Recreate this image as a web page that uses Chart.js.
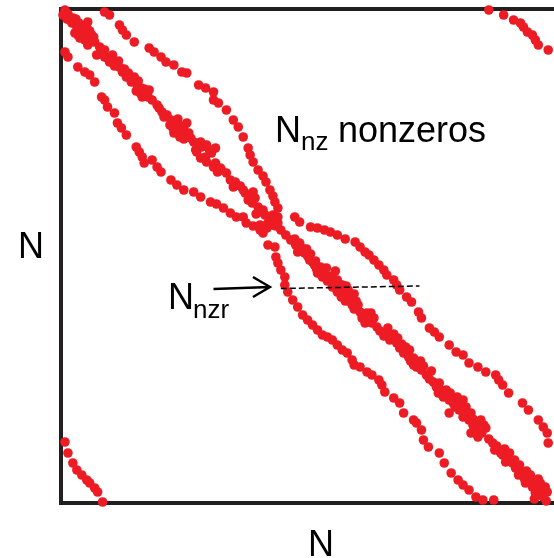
<!DOCTYPE html>
<html>
<head>
<meta charset="utf-8">
<script src="https://cdn.jsdelivr.net/npm/chart.js@4"></script>
<style>
  html, body { margin: 0; padding: 0; background: #fff; overflow: hidden; }
  canvas { display: block; }
</style>
</head>
<body>
<canvas id="matrixChart" width="554" height="558"></canvas>
<script>
// matrix size (rows = cols)
var N = 494;

// nonzeros as [column, row] pairs
var mainBand = [
  [4,1],[7,5],[9,11],[12,9],[11,14],[16,18],[14,24],[21,23],[27,13],[26,19],
  [19,29],[24,31],[31,26],[27,36],[34,33],[39,38],[36,46],[41,44],[44,41],[47,49],
  [52,46],[49,53],[56,53],[59,58],[62,63],[66,68],[71,73],[74,68],[77,76],[81,79],
  [86,84],[89,81],[82,88],[92,91],[97,96],[99,99],[102,103],[107,106],[111,111],[116,114],
  [114,124],[119,116],[121,121],[124,119],[127,114],[127,126],[134,133],[141,133],[147,136],[156,139],
  [137,143],[141,149],[147,153],[154,158],[161,159],[129,124],[136,141],[142,138],[146,148],[152,144],
  [156,154],[162,161],[167,164],[171,171],[176,173],[174,178],[186,184],[191,188],[196,189],[189,191],
  [184,181],[199,198],[201,203],[204,201],[211,209],[216,211],[209,214],[201,216],[214,206],[219,208],
  [217,217],[222,221],[227,226],[232,231],[237,236],[242,238],[239,243],[246,244],[251,251],[256,256],
  [262,258],[259,264],[266,263],[272,268],[279,271],[284,276],[276,273],[282,279],[286,281],[289,286],
  [292,289],[294,296],[302,303],[309,304],[306,309],[316,309],[311,313],[319,318],[329,324],[332,331],
  [339,334],[342,339],[346,344],[351,348],[356,349],[359,354],[359,358],[369,366],[376,373],[379,378],
  [384,381],[389,381],[386,388],[392,391],[396,394],[406,391],[392,404],[402,401],[406,408],[412,411],
  [416,416],[422,414],[429,419],[419,421],[421,428],[436,434],[442,441],[446,446],[449,453],[456,454],
  [459,459],[466,463],[472,468],[469,474],[476,478],[484,474],[479,484],[487,488],[491,483],
  // denser clumps along the diagonal
  [2,6],[6,10],[15,10],[18,14],[22,17],[29,22],[33,28],[17,26],[23,28],[30,33],
  [44,48],[54,57],[58,52],[64,60],[68,64],[78,72],[84,80],[80,84],[88,88],[76,82],
  [104,108],[110,116],[118,110],[113,119],[120,128],[124,130],[131,129],[138,137],[150,141],[158,163],
  [193,194],[197,205],[206,206],[213,216],[219,214],[208,219],[194,183],[181,177],
  [245,240],[249,247],[254,253],[258,260],[264,268],[269,272],[274,278],[279,283],[283,288],[287,292],
  [291,292],[296,300],[299,298],[304,309],[313,304],[314,314],[307,314],[322,322],[326,327],[335,330],
  [344,335],[348,342],[353,352],[356,356],[364,361],[372,370],[381,384],[398,398],[404,396],[410,405],
  [414,404],[418,418],[425,424],[414,424],[432,430],[440,437],[444,444],[452,449],[462,466],[468,470],
  [475,473],[481,481],[485,486],[489,478],[478,490],[490,492],
  [236,230],[241,234],[248,240],[252,245],[257,252],[262,262],[268,259],[274,267],[277,262],[281,275],
  [288,277],[290,281],[296,285],[298,292],[300,296],[330,319],[336,325],[340,329],[348,338],[352,341],
  [363,352],[366,357],[374,362],[382,374],[393,384],[400,388],[401,396],[409,398],[416,410],[424,411],
  [427,416],[438,441],[448,440],[453,444],[458,451],[463,456],[470,462],[474,466],[482,470],[486,480]
];

var upperBand = [
  [44,3],[49,6],[59,16],[62,21],[66,26],[74,33],[89,39],[94,43],[101,48],[106,53],
  [114,56],[122,63],[127,64],[139,76],[146,79],[154,83],[154,91],[159,94],[167,101],[174,111],
  [179,118],[184,128],[189,139],[191,146],[194,153],[199,161],[204,167],[207,173],[211,181],[214,187],
  [216,193],[219,199],[236,208],[241,213],[252,218],[259,219],[266,221],[272,223],[279,226],[287,230],
  [297,233],[302,238],[307,243],[311,246],[316,251],[321,256],[326,261],[329,266],[336,271],[339,276],
  [342,281],[349,288],[354,293],[361,303],[364,309],[372,319],[377,323],[382,328],[392,336],[399,343],
  [406,346],[412,354],[421,358],[429,363],[439,366],[442,371],[446,376],[452,384],[466,394],[472,401],
  [482,411],[487,418],[491,424],[492,434]
];

var lowerBand = [
  [4,43],[7,48],[17,58],[24,63],[29,66],[34,73],[41,88],[44,91],[47,98],[54,104],
  [57,114],[61,119],[66,126],[76,138],[79,143],[82,148],[84,154],[92,151],[97,158],[101,163],
  [111,171],[117,176],[124,181],[134,183],[141,188],[151,193],[157,195],[164,199],[171,204],[177,208],
  [184,208],[187,214],[194,217],[201,221],[204,224],[209,236],[216,238],[217,248],[219,254],[222,261],
  [226,268],[226,276],[229,283],[234,291],[239,298],[244,306],[249,311],[254,316],[259,321],[264,326],
  [269,328],[274,331],[279,336],[284,341],[289,344],[294,351],[296,356],[302,358],[309,363],[314,366],
  [321,371],[324,376],[327,383],[336,389],[342,394],[346,404],[356,411],[359,414],[364,421],[366,431],
  [371,438],[382,444],[387,454],[394,464],[401,471],[406,476],[412,481],[419,488],[426,491],[437,491]
];

var cornerTopRight = [
  [432,1],[447,6],[457,11],[464,14],[467,18],[471,23],[476,26],[479,31],[482,36],[492,41]
];

var cornerBottomLeft = [
  [4,433],[7,444],[12,454],[16,461],[21,466],[26,471],[29,474],[34,479],[37,483],[42,493]
];

// row marked by the arrow, and the column span of its dashed line
var nnzrRow = [279.5, 277];
var nnzrCols = [222, 362];
var arrowCols = [154, 211];

function toPoints(list) {
  return list.map(function (p) { return { x: p[0], y: p[1] }; });
}

var RED = '#ed1c24';
var FONT = "'Liberation Sans', Arial, sans-serif";

function dotSet(list) {
  return {
    data: toPoints(list),
    backgroundColor: RED,
    borderWidth: 0,
    pointRadius: 4.8,
    pointHoverRadius: 4.8,
    clip: false,
    order: 1
  };
}

// frame, labels and arrow
var decorations = {
  id: 'decorations',
  beforeDatasetsDraw: function (chart) {
    var c = chart.ctx, a = chart.chartArea;
    c.save();
    c.strokeStyle = '#231f20';
    c.lineWidth = 4;
    c.beginPath();
    c.moveTo(a.right + 10, a.top);
    c.lineTo(a.left, a.top);
    c.lineTo(a.left, a.bottom);
    c.lineTo(a.right + 10, a.bottom);
    c.stroke();
    c.restore();
  },
  afterDatasetsDraw: function (chart) {
    var c = chart.ctx, xs = chart.scales.x, ys = chart.scales.y;
    c.save();
    // arrow pointing at the row
    var x0 = xs.getPixelForValue(arrowCols[0]);
    var x1 = xs.getPixelForValue(arrowCols[1]);
    var y0 = ys.getPixelForValue(280);
    var y1 = ys.getPixelForValue(278);
    c.strokeStyle = '#000';
    c.lineWidth = 2.5;
    c.beginPath();
    c.moveTo(x0, y0);
    c.lineTo(x1, y1);
    c.moveTo(x1 - 17, y1 - 10);
    c.lineTo(x1, y1);
    c.lineTo(x1 - 17, y1 + 10);
    c.stroke();

    c.fillStyle = '#000';
    c.textBaseline = 'alphabetic';
    c.font = '36px ' + FONT;
    c.fillText('N', 18, 258);
    c.fillText('N', 308, 556);
    c.fillText('N', 275, 142);
    c.fillText('nonzeros', 338, 142);
    c.fillText('N', 168, 309);
    c.font = '26px ' + FONT;
    c.fillText('nz', 301, 150);
    c.fillText('nzr', 193, 318);
    c.restore();
  }
};

var ctx = document.getElementById('matrixChart').getContext('2d');
var chart = new Chart(ctx, {
  type: 'scatter',
  data: {
    datasets: [
      {
        type: 'line',
        data: [{ x: nnzrCols[0], y: nnzrRow[0] }, { x: nnzrCols[1], y: nnzrRow[1] }],
        borderColor: '#000',
        borderWidth: 1.5,
        borderDash: [6, 3],
        pointRadius: 0,
        fill: false,
        order: 0
      },
      dotSet(mainBand),
      dotSet(upperBand),
      dotSet(lowerBand),
      dotSet(cornerTopRight),
      dotSet(cornerBottomLeft)
    ]
  },
  options: {
    responsive: false,
    animation: false,
    layout: { padding: { left: 61, top: 9, right: 0, bottom: 55 } },
    scales: {
      x: { type: 'linear', display: false, min: 0, max: N - 1 },
      y: { type: 'linear', display: false, min: 0, max: N, reverse: true }
    },
    plugins: {
      legend: { display: false },
      tooltip: { enabled: false }
    }
  },
  plugins: [decorations]
});
</script>
</body>
</html>
